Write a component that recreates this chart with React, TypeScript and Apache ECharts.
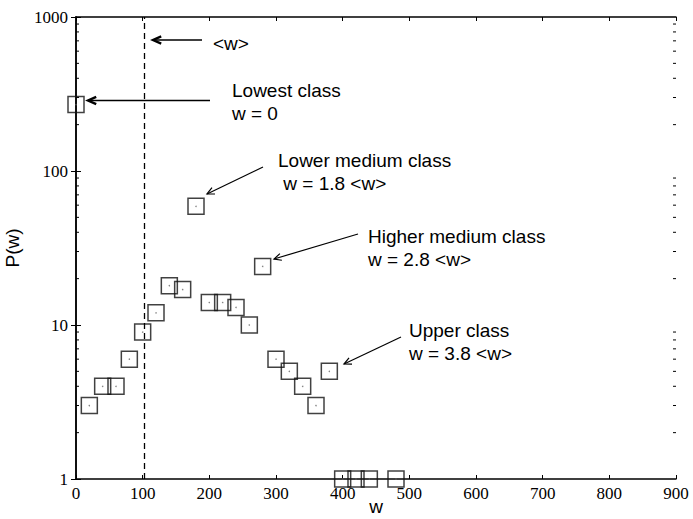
import React, { useEffect, useRef } from "react";
import * as echarts from "echarts";

// ---- data ----
const wValues = [0, 20, 40, 60, 80, 100, 120, 140, 160, 180, 200, 220, 240, 260, 280, 300, 320, 340, 360, 380, 400, 420, 440, 480];
const pValues = [270, 3, 4, 4, 6, 9, 12, 18, 17, 59, 14, 14, 13, 10, 24, 6, 5, 4, 3, 5, 1, 1, 1, 1];
const meanW = 103;
const xTicks = [0, 100, 200, 300, 400, 500, 600, 700, 800, 900];
const yMajorTicks = [1, 10, 100, 1000];
const yMinorTicks = [2, 3, 4, 5, 6, 7, 8, 9, 20, 30, 40, 50, 60, 70, 80, 90, 200, 300, 400, 500, 600, 700, 800, 900];

const annotations = [
  { lines: ["<w>"], tx: 213, ty: 43, from: [202, 40], to: [153, 40], bold: true },
  { lines: ["Lowest class", "w = 0"], tx: 232, ty: 90, from: [210, 100.5], to: [88, 100.5], bold: true },
  { lines: ["Lower medium class", " w = 1.8 <w>"], tx: 278, ty: 160, from: [263, 167], to: [207, 194], bold: false },
  { lines: ["Higher medium class", "w = 2.8 <w>"], tx: 368, ty: 236, from: [358, 234], to: [274, 259], bold: false },
  { lines: ["Upper class", "w = 3.8 <w>"], tx: 409, ty: 330, from: [401, 337], to: [344, 364], bold: false },
];

const SANS = "'Liberation Sans', Arial, sans-serif";
const SERIF = "'Liberation Serif', 'Times New Roman', serif";

function arrowGraphics(a: any) {
  const [x1, y1] = a.from;
  const [x2, y2] = a.to;
  const ang = Math.atan2(y2 - y1, x2 - x1);
  const len = a.bold ? 9 : 8;
  const spread = a.bold ? 0.42 : 0.45;
  const p1 = [x2 - len * Math.cos(ang - spread), y2 - len * Math.sin(ang - spread)];
  const p2 = [x2 - len * Math.cos(ang + spread), y2 - len * Math.sin(ang + spread)];
  const stroke = "#000";
  const out: any[] = [
    { type: "line", shape: { x1, y1, x2, y2 }, style: { stroke, lineWidth: a.bold ? 1.6 : 1.2 }, silent: true },
    { type: "polyline", shape: { points: [p1, [x2, y2], p2] }, style: { stroke, fill: null, lineWidth: a.bold ? 2.4 : 1.2 }, silent: true },
  ];
  a.lines.forEach((t: string, i: number) => {
    out.push({
      type: "text",
      x: a.tx,
      y: a.ty + i * 23,
      style: { text: t, fontFamily: SANS, fontSize: 19, fill: "#000", align: "left", verticalAlign: "middle" },
      silent: true,
    });
  });
  return out;
}

export default function App() {
  const ref = useRef<HTMLDivElement>(null);
  useEffect(() => {
    if (!ref.current) return;
    const chart = echarts.init(ref.current, null, { renderer: "svg" });
    const points = wValues.map((w, i) => [w, pValues[i]]);
    const axisLine = { show: true, lineStyle: { color: "#000", width: 1.5 } };
    const rich = { t: { fontFamily: SERIF, fontSize: 17, color: "#000" } };
    const nameStyle = { fontFamily: SANS, fontSize: 19, color: "#000" };
    const option: any = {
      animation: false,
      backgroundColor: "#fff",
      textStyle: { fontFamily: SERIF, fontSize: 17, color: "#000" },
      grid: { left: 76, right: 17, top: 17, bottom: 40, containLabel: false, outerBoundsMode: "none" },
      xAxis: [
        {
          type: "value",
          min: xTicks[0],
          max: xTicks[xTicks.length - 1],
          interval: 100,
          name: "w",
          nameLocation: "middle",
          nameGap: 18,
          nameMoveOverlap: false,
          nameTextStyle: nameStyle,
          axisLine,
          axisTick: { show: true, inside: true, length: 4, lineStyle: { color: "#000", width: 1 } },
          axisLabel: { fontFamily: SERIF, fontSize: 17, color: "#000", margin: 6, formatter: (v: number) => "{t|" + String(v) + "}", rich },
          splitLine: { show: false },
        },
        {
          type: "value",
          position: "top",
          min: xTicks[0],
          max: xTicks[xTicks.length - 1],
          interval: 100,
          axisLine,
          axisTick: { show: true, inside: true, length: 4, lineStyle: { color: "#000", width: 1 } },
          axisLabel: { show: false },
          splitLine: { show: false },
        },
      ],
      yAxis: [
        {
          type: "log",
          logBase: 10,
          min: yMajorTicks[0],
          max: yMajorTicks[yMajorTicks.length - 1],
          interval: 1,
          name: "P(w)",
          nameLocation: "middle",
          nameGap: 54,
          nameMoveOverlap: false,
          nameTextStyle: nameStyle,
          axisLine,
          axisTick: { show: true, inside: true, length: 5, lineStyle: { color: "#000", width: 1 } },
          axisLabel: { fontFamily: SERIF, fontSize: 17, color: "#000", margin: 8, formatter: (v: number) => "{t|" + String(Math.round(v)) + "}", rich },
          splitLine: { show: false },
        },
        {
          type: "log",
          logBase: 10,
          position: "right",
          min: yMajorTicks[0],
          max: yMajorTicks[yMajorTicks.length - 1],
          interval: 1,
          axisLine,
          axisTick: { show: true, inside: true, length: 5, lineStyle: { color: "#000", width: 1 } },
          axisLabel: { show: false },
          splitLine: { show: false },
        },
      ],
      series: [
        {
          type: "custom",
          xAxisIndex: 0,
          yAxisIndex: 0,
          silent: true,
          clip: false,
          data: yMinorTicks.map((v) => [xTicks[0], v]),
          encode: { x: 0, y: 1 },
          renderItem: (params: any, api: any) => {
            const v = api.value(1);
            const l = api.coord([xTicks[0], v]);
            const r = api.coord([xTicks[xTicks.length - 1], v]);
            return {
              type: "group",
              children: [
                { type: "line", shape: { x1: l[0], y1: l[1], x2: l[0] + 3, y2: l[1] }, style: { stroke: "#000", lineWidth: 1 } },
                { type: "line", shape: { x1: r[0], y1: r[1], x2: r[0] - 3, y2: r[1] }, style: { stroke: "#000", lineWidth: 1 } },
              ],
            };
          },
        },
        {
          type: "scatter",
          xAxisIndex: 0,
          yAxisIndex: 0,
          data: points,
          symbol: "rect",
          symbolSize: 16,
          clip: false,
          silent: true,
          itemStyle: { color: "rgba(0,0,0,0)", borderColor: "#111", borderWidth: 1.5 },
          markLine: {
            silent: true,
            symbol: "none",
            label: { show: false },
            lineStyle: { color: "#000", width: 1.3, type: [6, 4] },
            data: [{ xAxis: meanW }],
          },
          z: 3,
        },
        {
          type: "scatter",
          xAxisIndex: 0,
          yAxisIndex: 0,
          data: points,
          symbol: "circle",
          symbolSize: 1.5,
          clip: false,
          silent: true,
          itemStyle: { color: "#666" },
          z: 4,
        },
      ],
      graphic: annotations.flatMap(arrowGraphics),
    };
    chart.setOption(option);
    return () => chart.dispose();
  }, []);
  return <div ref={ref} style={{ position: "absolute", left: 0, top: 0, width: 693, height: 519 }} />;
}
